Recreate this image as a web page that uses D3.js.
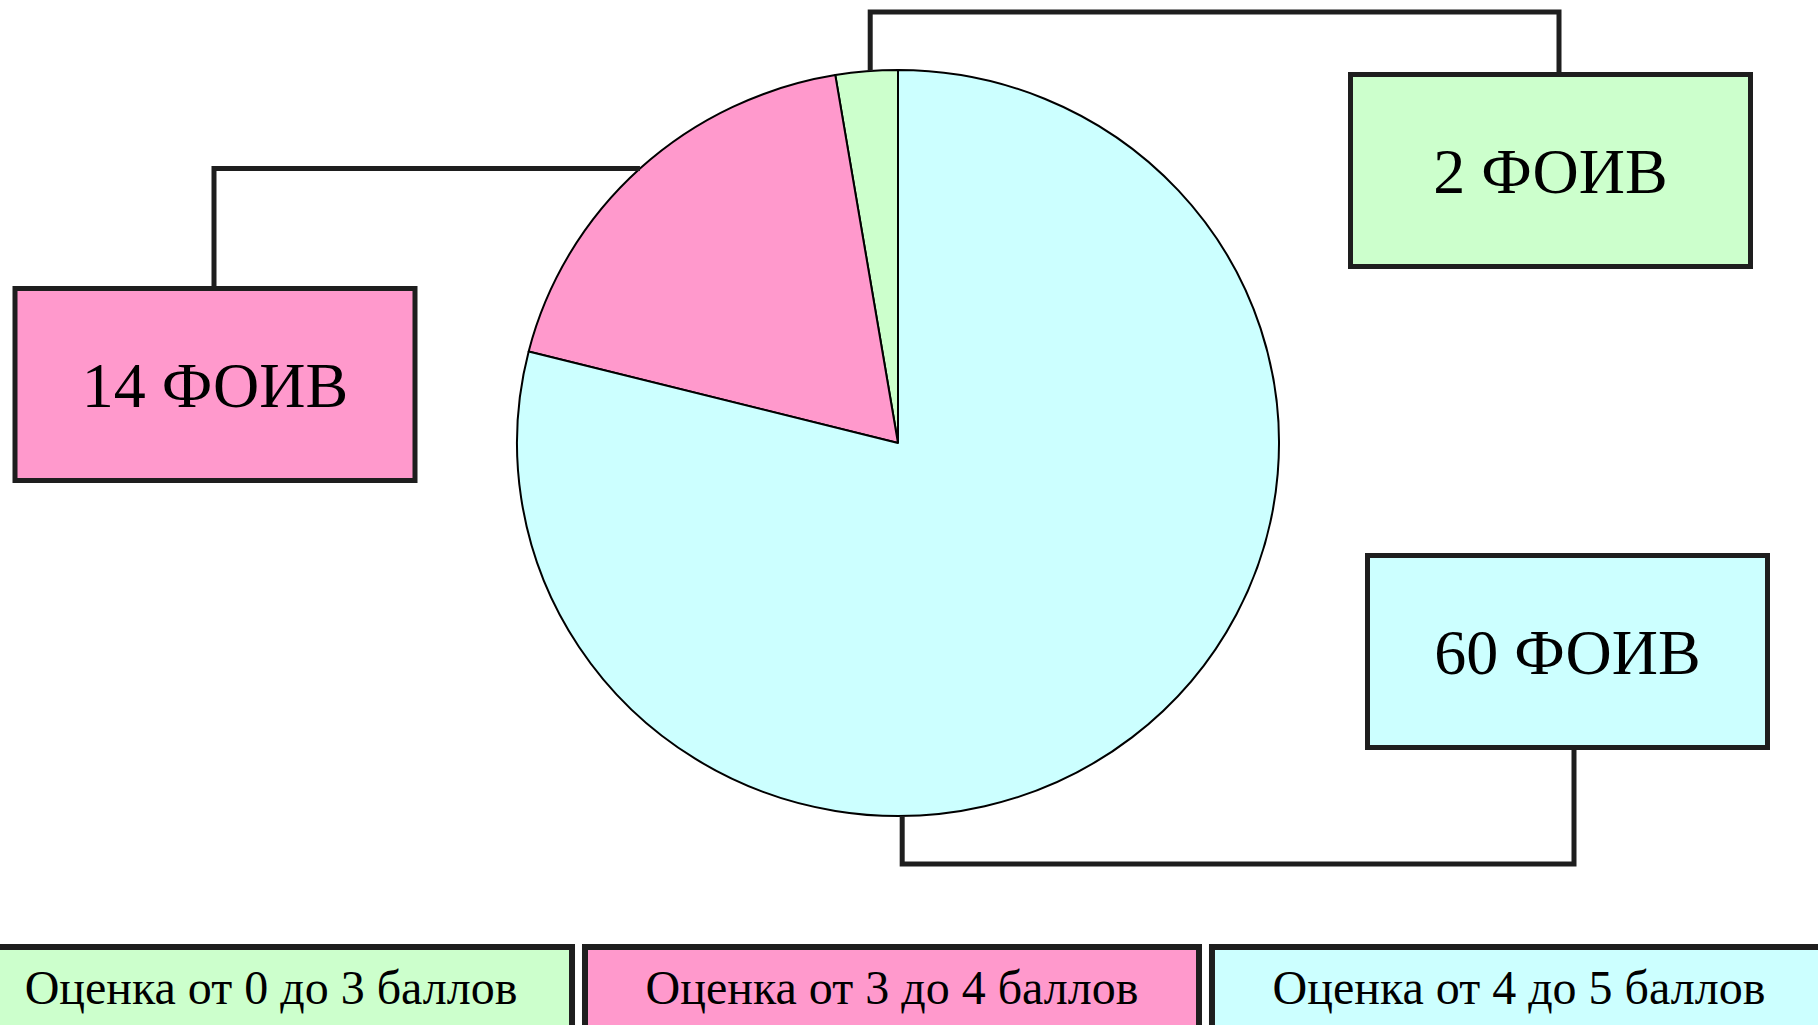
<!DOCTYPE html>
<html>
<head>
<meta charset="utf-8">
<script src="https://cdn.jsdelivr.net/npm/d3@7"></script>
<style>
  html, body { margin: 0; padding: 0; background: #fff; overflow: hidden; }
  text { fill: #000; }
</style>
</head>
<body>
<svg id="chart" width="1818" height="1025"></svg>
<script>
// data
var categories = ["Оценка от 0 до 3 баллов", "Оценка от 3 до 4 баллов", "Оценка от 4 до 5 баллов"];
var counts = [2, 14, 60];
var unit = "ФОИВ";
var colors = ["#CCFFCC", "#FF99CC", "#CCFFFF"];

var svg = d3.select("#chart");
var ink = "#1e1e1e";
var serif = "'Liberation Serif', 'Times New Roman', Times, 'DejaVu Serif', serif";

// pie geometry (slightly squashed vertically like the original)
var cx = 898, cy = 443, rx = 381, ry = 373;

var pie = d3.pie().sort(null).value(function(d) { return d; })
  .startAngle(0).endAngle(-2 * Math.PI);
var arcs = pie(counts);
var arc = d3.arc().innerRadius(0).outerRadius(rx);

var pieG = svg.append("g")
  .attr("transform", "translate(" + cx + "," + cy + ") scale(1," + (ry / rx) + ")");

pieG.selectAll("path")
  .data(arcs).enter().append("path")
    .attr("d", arc)
    .attr("fill", function(d, i) { return colors[i]; })
    .attr("stroke", "#000")
    .attr("stroke-width", 2)
    .attr("stroke-linejoin", "round")
    .attr("vector-effect", "non-scaling-stroke");

// angle is clockwise from 12 o'clock, same as d3.arc
function edgePoint(a) {
  return [cx + rx * Math.sin(a), cy - ry * Math.cos(a)];
}

// callout boxes: box position, leader elbow and where the leader meets the box
var callouts = [
  { box: [1350.5, 74.5],  angle: -0.073,          elbowY: 12,   anchorX: 1559, side: "top" },
  { box: [15, 288.5],     angle: null,            elbowY: null, anchorX: 214,  side: "top" },
  { box: [1367.5, 555.5], angle: Math.PI - 0.011, elbowY: 864,  anchorX: 1574, side: "bottom" }
];
var boxW = 400, boxH = 192;

callouts.forEach(function(c, i) {
  var d = arcs[i];
  var a = c.angle === null ? (d.startAngle + d.endAngle) / 2 : c.angle;
  var p = edgePoint(a);
  var elbowY = c.elbowY === null ? p[1] : c.elbowY;
  var boxEdge = c.side === "top" ? c.box[1] : c.box[1] + boxH;
  var path = d3.path();
  path.moveTo(p[0], p[1]);
  path.lineTo(p[0], elbowY);
  path.lineTo(c.anchorX, elbowY);
  path.lineTo(c.anchorX, boxEdge);
  svg.append("path")
    .attr("d", path.toString())
    .attr("fill", "none")
    .attr("stroke", ink)
    .attr("stroke-width", 5);
});

var labelG = svg.selectAll(".callout")
  .data(callouts).enter().append("g")
    .attr("class", "callout")
    .attr("transform", function(c) { return "translate(" + c.box[0] + "," + c.box[1] + ")"; });

labelG.append("rect")
  .attr("width", boxW).attr("height", boxH)
  .attr("fill", function(c, i) { return colors[i]; })
  .attr("stroke", ink)
  .attr("stroke-width", 5);

labelG.append("text")
  .attr("x", boxW / 2).attr("y", boxH / 2 + 22)
  .attr("text-anchor", "middle")
  .attr("font-family", serif)
  .attr("font-size", 64)
  .text(function(c, i) { return counts[i] + " " + unit; });

// legend along the bottom
var legendX = d3.scaleBand().domain(categories).range([-42, 1826]).paddingInner(0.0207);

var legend = svg.selectAll(".legend")
  .data(categories).enter().append("g")
    .attr("class", "legend")
    .attr("transform", function(d) { return "translate(" + legendX(d) + ",947)"; });

legend.append("rect")
  .attr("width", legendX.bandwidth()).attr("height", 120)
  .attr("fill", function(d, i) { return colors[i]; })
  .attr("stroke", ink)
  .attr("stroke-width", 6);

legend.append("text")
  .attr("x", function(d, i) { return legendX.bandwidth() / 2 + (i === 0 ? 6 : 0); })
  .attr("y", 57)
  .attr("text-anchor", "middle")
  .attr("font-family", serif)
  .attr("font-size", 48)
  .text(function(d) { return d; });
</script>
</body>
</html>
